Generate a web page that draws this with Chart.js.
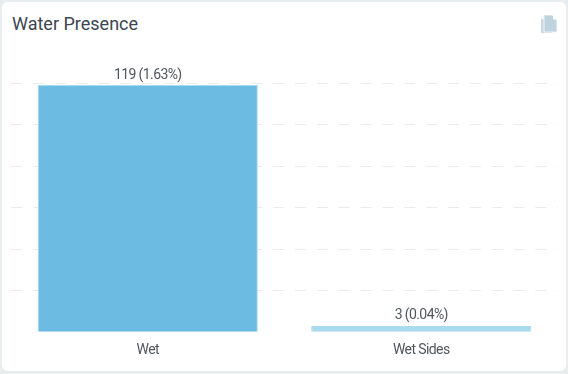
<!DOCTYPE html>
<html>
<head>
<meta charset="utf-8">
<title>Water Presence</title>
<script src="https://cdn.jsdelivr.net/npm/chart.js@4/dist/chart.umd.min.js"></script>
<style>
html, body { margin: 0; padding: 0; background: #e8edf0; }
#card { position: absolute; left: 2px; top: 2px; width: 564px; height: 369px; background: #fff; border-radius: 6px; }
#title { position: absolute; left: 10px; top: 11px; font: 18px Roboto, sans-serif; color: #3c4650; }
#icon { position: absolute; left: 539px; top: 13px; }
#chartBox { position: absolute; left: 0; top: 0; width: 568px; height: 374px; }
</style>
</head>
<body>
<div id="card">
    <div id="title">Water Presence</div>
    <svg id="icon" width="16" height="19" viewBox="0 0 16 19">
        <path d="M0 4h11v14H0z" fill="#c9d8e2"/>
        <path d="M3 0h8l5 5v12H3z" fill="#bfd3df" stroke="#eef3f6" stroke-width="1"/>
        <path d="M12 0.5v4h4z" fill="#ffffff"/>
    </svg>
</div>
<div id="chartBox"><canvas id="myChart"></canvas></div>
<script>
const categories = ["Wet", "Wet Sides"];
const counts = [119, 3];
const valueLabels = ["119 (1.63%)", "3 (0.04%)"];
const barColors = ["#6cbbe3", "#aadaef"];
const tickValues = [0, 20, 40, 60, 80, 100, 120];
const labelFont = "14px Roboto, sans-serif";

// Roboto is wider than the original condensed face, so tighten the spacing
const tightText = {
    id: "tightText",
    beforeDraw(chart) {
        chart.ctx.letterSpacing = "-0.6px";
    }
};

// Text above each bar
const barLabels = {
    id: "barLabels",
    afterDatasetsDraw(chart) {
        const ctx = chart.ctx;
        ctx.save();
        ctx.font = labelFont;
        ctx.fillStyle = "#50575d";
        ctx.textAlign = "center";
        ctx.textBaseline = "bottom";
        chart.getDatasetMeta(0).data.forEach((bar, i) => {
            ctx.fillText(valueLabels[i], bar.x, bar.y - 3);
        });
        ctx.restore();
    }
};

const ctx1 = document.getElementById("myChart").getContext("2d");

new Chart(ctx1, {
    type: "bar",
    data: {
        labels: categories,
        datasets: [{
            data: counts,
            backgroundColor: barColors,
            borderColor: "#a9daf0",
            borderWidth: 1,
            categoryPercentage: 0.805,
            barPercentage: 1
        }]
    },
    options: {
        responsive: true,
        maintainAspectRatio: false,
        animation: false,
        layout: { padding: { left: 11, right: 10, top: 83, bottom: 13 } },
        plugins: {
            legend: { display: false },
            tooltip: { enabled: false }
        },
        scales: {
            x: {
                grid: { display: false },
                border: { display: false },
                ticks: { color: "#50575d", font: { family: "Roboto, sans-serif", size: 14 }, padding: 2 }
            },
            y: {
                min: 0,
                max: 120,
                afterBuildTicks(axis) {
                    axis.ticks = tickValues.map(v => ({ value: v }));
                },
                grid: {
                    color: c => c.tick.value === 0 ? "transparent" : "#ebebeb",
                    drawTicks: false
                },
                border: { display: false, dash: [11, 10.85] },
                ticks: { display: false }
            }
        }
    },
    plugins: [tightText, barLabels]
});
</script>
</body>
</html>
